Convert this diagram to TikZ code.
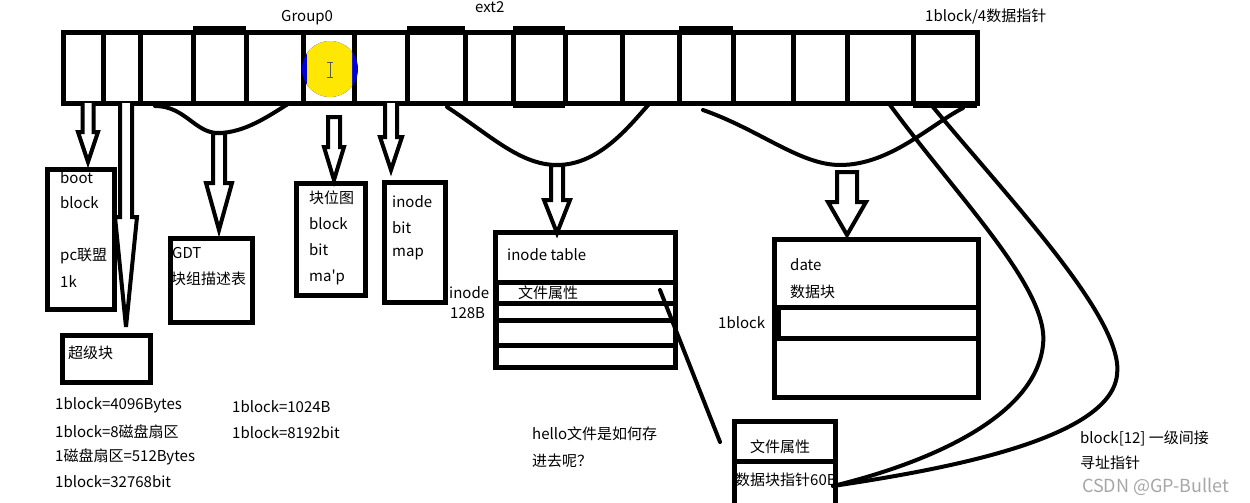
\documentclass[tikz,border=0pt]{standalone}
\usepackage{fontspec}
\setmainfont{Noto Sans CJK SC}
\newfontfamily\plainfont{Noto Sans CJK SC}
\newcommand{\hollowarrow}[6]{%
  \draw[line width=4pt, line join=miter, fill=white]
    ({#1-#5},#2) -- ({#1-#5},#3) -- ({#1-#6},#3) -- (#1,#4) -- ({#1+#6},#3) -- ({#1+#5},#3) -- ({#1+#5},#2);}
\newcommand{\closedarrow}[6]{%
  \draw[line width=4pt, line join=miter, fill=white]
    ({#1-#5},#2) -- ({#1-#5},#3) -- ({#1-#6},#3) -- (#1,#4) -- ({#1+#6},#3) -- ({#1+#5},#3) -- ({#1+#5},#2) -- cycle;}
\begin{document}
\begin{tikzpicture}[x=1pt,y=-1pt,
  box/.style={draw, line width=5pt, anchor=north west, inner sep=0pt},
  txt/.style={anchor=west, inner sep=0pt, font=\fontsize{15}{18}\selectfont},
  curve/.style={line width=4pt, line cap=round},
  cell/.style={line width=5pt}]
\useasboundingbox (0,0) rectangle (1250,503);
% ---------- the strip of blocks ----------
\draw[cell] (63,33) rectangle (977,103);
\foreach \x in {103,140,193,246,303,354,407,465,513,565,622,679,733,793,847,913}
  \draw[cell] (\x,33) -- (\x,103);
\draw[line width=7pt] (193,30) -- (246,30);
\draw[line width=7pt] (407,30) -- (465,30);
\draw[line width=7pt] (513,30) -- (565,30);
\draw[line width=7pt] (513,104) -- (565,104);
\draw[line width=7pt] (679,30) -- (733,30);
\draw[line width=7pt] (913,104) -- (977,104);
% cursor highlight
\fill[blue!85!black] (330,69) circle (28);
\begin{scope}
  \clip (307,0) rectangle (352,200);
  \fill[yellow!90!orange] (330,69) circle (28);
\end{scope}
\draw[gray!70!black, line width=0.8pt] (330,62) -- (330,77) (327,62) -- (333,62) (327,77) -- (333,77);
% top labels
\node[txt] (group0) at (281,18) {Group0};
\node[txt] (ext2) at (475,7) {ext2};
\node[txt] (ptr4) at (925,17) {1block/4数据指针};
% ---------- curly braces under the strip ----------
\draw[curve] (155,106) .. controls (185,106) and (195,133) .. (218,133) .. controls (245,133) and (270,115) .. (288,104);
\draw[curve] (447,107) .. controls (490,135) and (520,165) .. (557,165) .. controls (600,165) and (630,125) .. (650,103);
\draw[curve] (703,110) .. controls (760,130) and (800,165) .. (840,165) .. controls (890,165) and (930,125) .. (963,108);
% ---------- hollow arrows ----------
\hollowarrow{88}{103}{132}{162}{5.5}{10}
\closedarrow{219}{133}{183}{230}{6}{13}
\closedarrow{334}{117}{147}{180}{6}{10}
\hollowarrow{391}{103}{137}{170}{6}{11}
\closedarrow{557}{165}{200}{233}{6}{13}
\closedarrow{847}{172}{202}{235}{10}{19}
% ---------- boxes ----------
\node[box, minimum width=67pt, minimum height=140pt] (boot) at (45,167) {};
\node[txt] at (60,178) {boot};
\node[txt] at (60,203) {block};
\node[txt] at (60,256) {pc联盟};
\node[txt] at (60,282) {1k};
\hollowarrow{126}{103}{217}{327}{6}{11}
\node[box, minimum width=88pt, minimum height=47pt] (super) at (60,333) {};
\node[txt] at (68,353) {超级块};
\node[box, minimum width=82pt, minimum height=84pt] (gdt) at (168,236) {};
\node[txt] at (172,253) {GDT};
\node[txt] at (171,279) {块组描述表};
\node[box, minimum width=69pt, minimum height=112pt] (bbm) at (294,181) {};
\node[txt] at (309,198) {块位图};
\node[txt] at (309,224) {block};
\node[txt] at (309,250) {bit};
\node[txt] at (309,277) {\plainfont ma'p};
\node[box, minimum width=61pt, minimum height=120pt] (ibm) at (382,180) {};
\node[txt] at (392,202) {inode};
\node[txt] at (392,228) {bit};
\node[txt] at (392,254) {map};
% inode table
\node[box, minimum width=180pt, minimum height=135pt] (itab) at (493,230) {};
\foreach \y in {282,303,320,345} \draw[cell] (493,\y) -- (673,\y);
\draw[line width=4pt] (497,282) -- (497,365);
\node[txt] at (507,255) {inode table};
\node[txt] at (518,293) {文件属性};
\node[txt] at (449,293) {inode};
\node[txt] at (450,313) {128B};
% date block
\node[box, minimum width=204pt, minimum height=158pt] (data) at (772,237) {};
\foreach \y in {307,338} \draw[cell] (772,\y) -- (976,\y);
\fill (772,307) rectangle (781,338);
\node[txt] at (790,265) {date};
\node[txt] at (790,292) {数据块};
\node[txt] at (718,323) {1block};
% inode detail box
\node[txt] (ptrtxt) at (735,480) {数据块指针60B};
\node[box, minimum width=101pt, minimum height=84pt] (inode) at (732,419) {};
\draw[cell] (732,461) -- (838,461);
\node[txt] at (750,447) {文件属性};
% connectors
\coordinate (attr) at (660,290);
\coordinate (attrend) at (720,442);
\draw[curve] (attr) -- (attrend);
\coordinate (ptrend) at (833,486);
\draw[curve] (890,105) .. controls (960,200) and (1050,290) .. (1043,345) .. controls (1035,420) and (920,465) .. (ptrend);
\draw[curve] (933,107) .. controls (1010,200) and (1125,320) .. (1117,375) .. controls (1110,440) and (940,470) .. (ptrend);
% ---------- notes ----------
\node[txt] at (55,405) {1block=4096Bytes};
\node[txt] at (55,432) {1block=8磁盘扇区};
\node[txt] at (55,457) {1磁盘扇区=512Bytes};
\node[txt] at (55,482) {1block=32768bit};
\node[txt] at (232,407) {1block=1024B};
\node[txt] at (232,433) {1block=8192bit};
\node[txt] at (532,434) {hello文件是如何存};
\node[txt] at (532,461) {进去呢？};
\node[txt] at (1080,438) {block[12] 一级间接};
\node[txt] at (1080,463) {寻址指针};
\node[anchor=west, inner sep=0pt, font=\fontsize{18}{20}\selectfont, text=gray!70] at (1082,487) {CSDN @GP-Bullet};
\end{tikzpicture}
\end{document}
